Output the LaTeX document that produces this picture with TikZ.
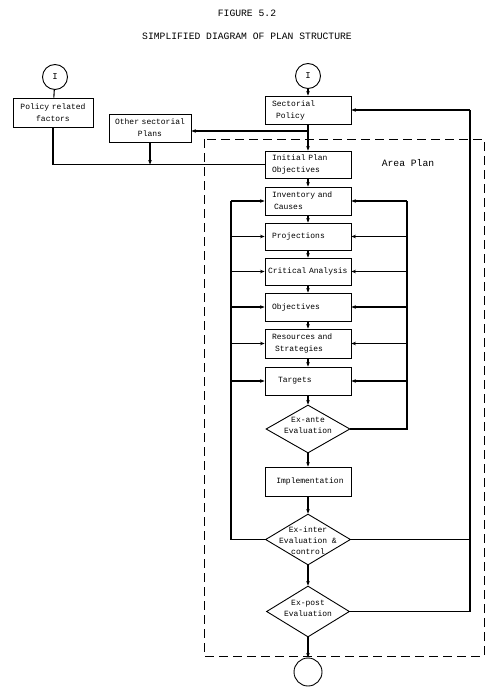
\documentclass[tikz,border=0pt]{standalone}
\usepackage{fontspec}
\setmainfont{Liberation Mono}
\usetikzlibrary{shapes.geometric,arrows.meta}
\begin{document}
\hyphenpenalty=10000
\begin{tikzpicture}[x=1bp,y=-1bp,
  lbl/.style={font=\fontsize{8bp}{12bp}\selectfont},
  dlbl/.style={font=\fontsize{8bp}{11bp}\selectfont, align=center, inner sep=0pt},
  box/.style={draw, line width=0.9bp, lbl, text width=72bp, align=left, inner xsep=7bp, inner ysep=0pt, minimum height=28bp},
  dia/.style={draw, diamond, line width=0.9bp, inner sep=0pt},
  circ/.style={draw, circle, line width=0.9bp, inner sep=0pt, minimum size=25bp, font=\fontsize{9bp}{11bp}\selectfont},
  ln/.style={line width=1.1bp},
  arr/.style={ln, -{Stealth[length=4.5bp,width=3.6bp]}},
  ttl/.style={font=\fontsize{9.7bp}{12bp}\selectfont, inner sep=0pt}
]
\useasboundingbox (0,0) rectangle (496,696);
% titles
\node[ttl] (fig) at (247,13) {FIGURE 5.2};
\node[ttl] (title) at (247,36) {SIMPLIFIED DIAGRAM OF PLAN STRUCTURE};
% dashed area plan frame
\draw[line width=0.8bp, dash pattern=on 9bp off 5bp] (204,139) rectangle (484,656);
\node[ttl] (area) at (408,163) {Area Plan};
% nodes
\node[circ] (cL) at (55,77) {I};
\node[circ] (cR) at (308,76) {I};
\node[box, text width=70bp, inner xsep=5bp, align=center, minimum height=29bp] (pol) at (53,112.5) {Policy related\\factors};
\node[box, text width=74bp, inner xsep=4bp, align=center] (oth) at (150,128) {Other sectorial\\Plans};
\node[box] (sec) at (308,110) {Sectorial\\\hspace*{4bp}Policy};
\node[box, minimum height=27bp] (ini) at (308,164.5) {Initial Plan\\Objectives};
\node[box] (inv) at (308,201) {Inventory and\\\hspace*{2bp}Causes};
\node[box, minimum height=27bp] (pro) at (308,236.5) {Projections};
\node[box, minimum height=27bp, text width=84bp, inner xsep=1bp] (cri) at (308,271.5) {\hspace*{2bp}Critical Analysis};
\node[box] (obj) at (308,307) {Objectives};
\node[box, minimum height=29bp] (res) at (308,343.5) {Resources and\\\hspace*{3bp}Strategies};
\node[box] (tar) at (308,381) {\hspace*{6bp}Targets};
\node[dia, minimum width=84bp, minimum height=48bp,
  label={[dlbl, yshift=4bp]center:Ex-ante\\Evaluation}] (exa) at (308,429) {};
\node[box, minimum height=29bp, align=center] (imp) at (308,481.5) {\hspace*{4bp}Implementation};
\node[dia, minimum width=85bp, minimum height=51bp,
  label={[dlbl, yshift=-1bp]center:Ex-inter\\Evaluation \&\\control}] (exi) at (308,539.5) {};
\node[dia, minimum width=83bp, minimum height=51bp,
  label={[dlbl, yshift=3bp]center:Ex-post\\Evaluation}] (exp) at (308,611.5) {};
\node[circ, minimum size=28bp] (cB) at (308,672) {};
% top connectors
\draw[arr] (cR) -- (sec);
\draw[ln] (cL) -- (pol);
\draw[arr] (sec) -- (ini);
\coordinate (j1) at (308,131);
\draw[arr] (j1) -- (j1 -| oth.east);
\draw[ln] (pol.south) |- (ini.west);
\draw[arr] (oth.south) -- (oth.south |- ini.west);
% main chain
\foreach \a/\b in {ini/inv, inv/pro, pro/cri, cri/obj, obj/res, res/tar, tar/exa, exa/imp, imp/exi, exi/exp, exp/cB}
  \draw[arr] (\a) -- (\b);
% left feedback loop
\coordinate (L) at (231,0);
\draw[ln] (exi.west) -- (exi.west -| L) -- (inv.west -| L);
\foreach \n in {inv,pro,cri,obj,res,tar}
  \draw[arr] (\n.west -| L) -- (\n.west);
% right feedback loop
\coordinate (R) at (407,0);
\draw[ln] (exa.east) -- (exa.east -| R) -- (inv.east -| R);
\foreach \n in {inv,pro,cri,obj,res,tar}
  \draw[arr] (\n.east -| R) -- (\n.east);
% outer feedback loop
\coordinate (B) at (470,0);
\draw[ln] (exp.east) -- (exp.east -| B) -- (sec.east -| B);
\draw[arr] (sec.east -| B) -- (sec.east);
\draw[ln] (exi.east) -- (exi.east -| B);
\end{tikzpicture}
\end{document}
